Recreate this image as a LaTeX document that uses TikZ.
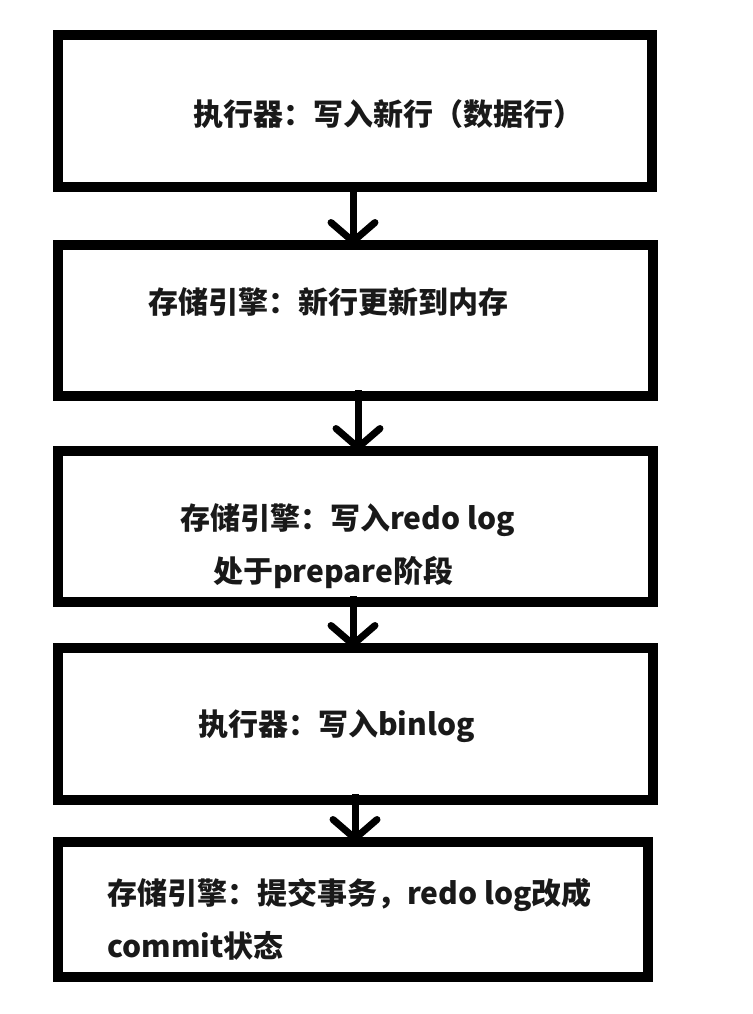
\documentclass[tikz,border=0pt]{standalone}
\usepackage{fontspec}
\setmainfont{Noto Sans CJK SC}
\usetikzlibrary{arrows.meta}
\tikzset{
  box/.style={draw=black, line width=10pt, outer sep=0pt, inner sep=0pt},
  lbl/.style={anchor=west, inner sep=0pt, align=left, text=black!90,
    font=\bfseries\fontsize{30}{53}\selectfont},
  arr/.style={line width=7pt, -{Straight Barb[length=19pt, width=44pt, round]}}
}
\begin{document}
\begin{tikzpicture}[x=1pt, y=-1pt]
\useasboundingbox (0,0) rectangle (752,1014);
\node[box, minimum width=594pt, minimum height=152pt] (b1) at (355,111) {};
\node[box, minimum width=595pt, minimum height=151pt] (b2) at (355.5,320.5) {};
\node[box, minimum width=595pt, minimum height=151pt] (b3) at (355.5,526.5) {};
\node[box, minimum width=595pt, minimum height=152pt] (b4) at (355.5,724) {};
\node[box, minimum width=590pt, minimum height=135pt] (b5) at (353.25,909.5) {};

\node[lbl] (t1) at (193,114) {执行器：写入新行（数据行）};
\node[lbl] (t2) at (148,302) {存储引擎：新行更新到内存};
\node[lbl, anchor=north west] (t3) at (180,503) {存储引擎：写入redo log\\\hspace*{33pt}处于prepare阶段};
\node[lbl] (t4) at (198,726) {执行器：写入binlog};
\node[lbl, anchor=north west] (t5) at (107,878) {存储引擎：提交事务，redo log改成\\commit状态};

\draw[arr] ([xshift=-2pt]b1.south) -- ([xshift=-2.5pt]b2.north);
\draw[arr] ([xshift=2.5pt,yshift=6pt]b2.south) -- ([xshift=2.5pt]b3.north);
\draw[arr] ([xshift=-2.5pt,yshift=6pt]b3.south) -- ([xshift=-2.5pt]b4.north);
\draw[arr] ([xshift=-0.5pt,yshift=6pt]b4.south) -- ([xshift=1.75pt]b5.north);
\end{tikzpicture}
\end{document}
